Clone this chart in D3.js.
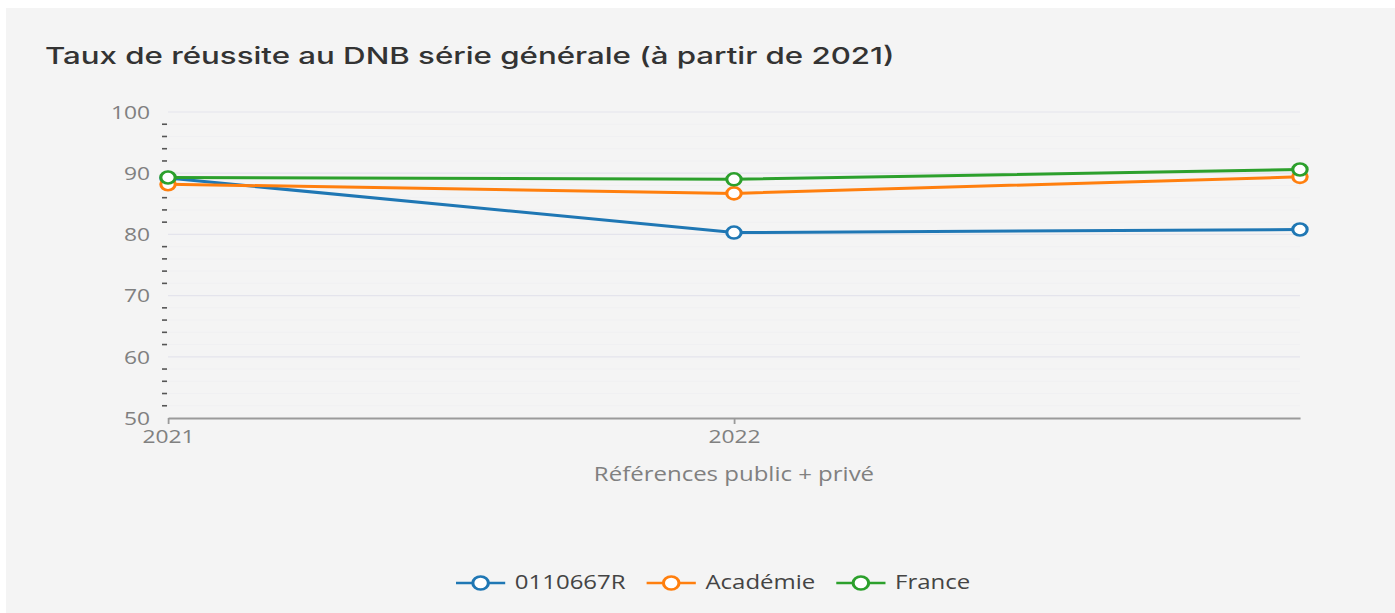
<!DOCTYPE html>
<html>
<head>
<meta charset="utf-8">
<script src="https://cdn.jsdelivr.net/npm/d3@7"></script>
<style>
  html, body { margin: 0; padding: 0; background: #fff; }
  svg { display: block; }
</style>
</head>
<body>
<div id="chart"></div>
<script>
let title = "Taux de réussite au DNB série générale (à partir de 2021)";
let axisTitle = "Références public + privé";
let years = [2021, 2022, 2023];
let xTickLabels = ["2021", "2022"];
let yTickLabels = [50, 60, 70, 80, 90, 100];
let seriesNames = ["0110667R", "Académie", "France"];
let etablissement = [89.2, 80.3, 80.8];
let academie = [88.2, 86.7, 89.4];
let france = [89.3, 89.0, 90.6];
let colors = ["#1f77b4", "#ff7f0e", "#2ca02c"];

// the reference picture is stretched horizontally, so draw in a narrower box
let stretch = 1.2,
  width = 1395,
  height = 613,
  vbWidth = width / stretch;

let svg = d3.select("#chart").append("svg")
  .attr("width", width)
  .attr("height", height)
  .attr("viewBox", "0 0 " + vbWidth + " " + height)
  .attr("preserveAspectRatio", "none");

svg.append("rect")
  .attr("x", 5).attr("y", 8)
  .attr("width", vbWidth).attr("height", height)
  .attr("fill", "#f4f4f4");

svg.append("text")
  .attr("x", 37.5).attr("y", 64)
  .attr("font-family", "Inter, sans-serif")
  .attr("font-size", 23.5)
  .attr("font-weight", 500)
  .attr("fill", "#333")
  .attr("textLength", 708)
  .attr("lengthAdjust", "spacingAndGlyphs")
  .text(title);

let x = d3.scaleLinear()
  .domain([d3.min(years), d3.max(years)])
  .range([140, 1083.3]);

let y = d3.scaleLinear()
  .domain([50, 100])
  .range([418, 112]);

let font = "'Open Sans', sans-serif";

// minor grid + minor ticks every 2
let minor = d3.range(52, 100, 2).filter(function(d) { return d % 10 !== 0; });

svg.append("g").selectAll("line")
  .data(minor)
  .enter().append("line")
  .attr("x1", x.range()[0]).attr("x2", x.range()[1])
  .attr("y1", function(d) { return y(d); })
  .attr("y2", function(d) { return y(d); })
  .attr("stroke", "#f0f0f2")
  .attr("stroke-width", 1);

svg.append("g").selectAll("line")
  .data(yTickLabels.filter(function(d) { return d > 50; }))
  .enter().append("line")
  .attr("x1", x.range()[0]).attr("x2", x.range()[1])
  .attr("y1", function(d) { return y(d); })
  .attr("y2", function(d) { return y(d); })
  .attr("stroke", "#e4e4ec")
  .attr("stroke-width", 1.2);

svg.append("g").selectAll("line")
  .data(minor)
  .enter().append("line")
  .attr("x1", 135).attr("x2", 139.2)
  .attr("y1", function(d) { return y(d); })
  .attr("y2", function(d) { return y(d); })
  .attr("stroke", "#555")
  .attr("stroke-width", 1.6);

svg.append("g").selectAll("text")
  .data(yTickLabels)
  .enter().append("text")
  .attr("x", 125)
  .attr("y", function(d) { return y(d); })
  .attr("dy", "0.36em")
  .attr("text-anchor", "end")
  .attr("font-family", font)
  .attr("font-size", 19)
  .attr("fill", "#808080")
  .text(function(d) { return d; });

// x axis
let xAxis = svg.append("g")
  .attr("transform", "translate(0," + y(50) + ")")
  .call(d3.axisBottom(x)
    .tickValues(xTickLabels.map(Number))
    .tickFormat(d3.format("d"))
    .tickSizeInner(6)
    .tickSizeOuter(0)
    .tickPadding(6));

xAxis.select(".domain").attr("stroke", "#9a9a9a").attr("stroke-width", 2);
xAxis.selectAll(".tick line").attr("stroke", "#9a9a9a").attr("stroke-width", 1.5);
xAxis.selectAll(".tick text")
  .attr("font-family", font)
  .attr("font-size", 19)
  .attr("fill", "#808080");

svg.append("text")
  .attr("x", (x.range()[0] + x.range()[1]) / 2)
  .attr("y", 481)
  .attr("text-anchor", "middle")
  .attr("font-family", font)
  .attr("font-size", 20)
  .attr("fill", "#808080")
  .text(axisTitle);

// series
let series = [etablissement, academie, france].map(function(values, i) {
  return {
    label: seriesNames[i],
    color: colors[i],
    data: values.map(function(v, j) { return [years[j], v]; })
  };
});

let line = d3.line()
  .x(function(d) { return x(d[0]); })
  .y(function(d) { return y(d[1]); });

let groups = svg.selectAll(".series")
  .data(series)
  .enter().append("g")
  .attr("class", "series");

groups.append("path")
  .attr("d", function(d) { return line(d.data); })
  .attr("fill", "none")
  .attr("stroke", function(d) { return d.color; })
  .attr("stroke-width", 3);

groups.each(function(s) {
  d3.select(this).selectAll("circle")
    .data(s.data)
    .enter().append("circle")
    .attr("cx", function(d) { return x(d[0]); })
    .attr("cy", function(d) { return y(d[1]); })
    .attr("r", 6)
    .attr("fill", "#fff")
    .attr("stroke", s.color)
    .attr("stroke-width", 2.6);
});

// legend
let legend = svg.append("g");
let lx = 380;
series.forEach(function(s) {
  let item = legend.append("g").attr("transform", "translate(" + lx + ",0)");
  item.append("line")
    .attr("x1", 0).attr("x2", 41)
    .attr("y1", 583).attr("y2", 583)
    .attr("stroke", s.color)
    .attr("stroke-width", 2.6);
  item.append("circle")
    .attr("cx", 20.5).attr("cy", 583)
    .attr("r", 6.5)
    .attr("fill", "#fff")
    .attr("stroke", s.color)
    .attr("stroke-width", 2.6);
  let t = item.append("text")
    .attr("x", 49).attr("y", 589)
    .attr("font-family", font)
    .attr("font-size", 20)
    .attr("fill", "#444")
    .text(s.label);
  lx += 49 + t.node().getComputedTextLength() + 17.5;
});
</script>
</body>
</html>
